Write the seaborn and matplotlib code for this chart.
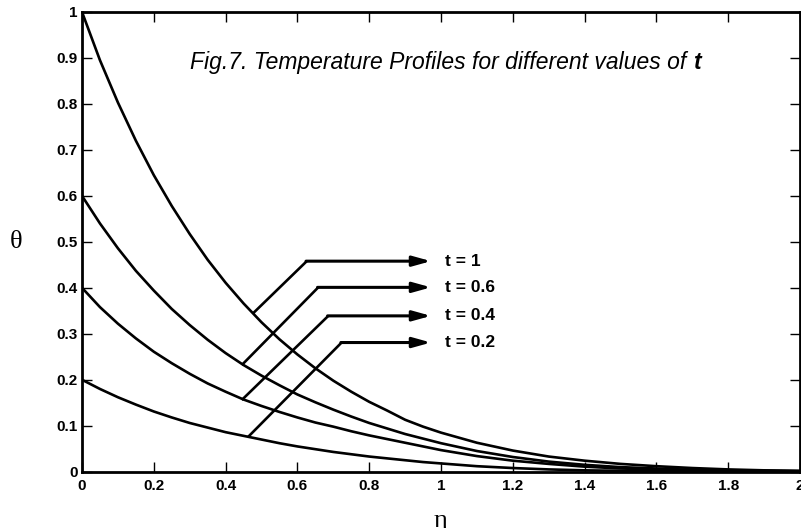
import pandas as pd
import seaborn as sns
import matplotlib.pyplot as plt

sns.set_theme(style="white")
plt.rcParams["font.family"] = ["Liberation Sans", "DejaVu Sans"]

# eta grid and theta values for each t
eta = [0, 0.05, 0.10, 0.15, 0.20, 0.25, 0.30, 0.35, 0.40, 0.45, 0.50, 0.55, 0.60, 0.65, 0.70,
       0.75, 0.80, 0.85, 0.90, 0.95, 1.0, 1.1, 1.2, 1.3, 1.4, 1.5, 1.6, 1.7, 1.8, 1.9, 2.0]

theta_t1 = [1.000, 0.895, 0.803, 0.720, 0.645, 0.578, 0.517, 0.461, 0.411, 0.366, 0.325, 0.288,
            0.255, 0.225, 0.198, 0.174, 0.152, 0.133, 0.113, 0.098, 0.085, 0.063, 0.046, 0.033,
            0.024, 0.017, 0.012, 0.008, 0.005, 0.003, 0.002]
theta_t06 = [0.600, 0.540, 0.486, 0.437, 0.394, 0.354, 0.319, 0.287, 0.258, 0.232, 0.209, 0.188,
             0.168, 0.151, 0.135, 0.120, 0.106, 0.094, 0.082, 0.072, 0.062, 0.045, 0.032, 0.022,
             0.015, 0.010, 0.007, 0.004, 0.003, 0.002, 0.001]
theta_t04 = [0.400, 0.358, 0.322, 0.290, 0.261, 0.236, 0.213, 0.192, 0.174, 0.157, 0.143, 0.130,
             0.118, 0.107, 0.098, 0.088, 0.079, 0.071, 0.063, 0.055, 0.047, 0.034, 0.024, 0.017,
             0.011, 0.007, 0.005, 0.003, 0.002, 0.001, 0.001]
theta_t02 = [0.200, 0.180, 0.162, 0.146, 0.131, 0.118, 0.106, 0.096, 0.086, 0.078, 0.070, 0.062,
             0.055, 0.049, 0.043, 0.038, 0.033, 0.029, 0.025, 0.021, 0.018, 0.012, 0.008, 0.005,
             0.003, 0.002, 0.001, 0.001, 0.0005, 0.0003, 0.0]

t_labels = ["t = 1", "t = 0.6", "t = 0.4", "t = 0.2"]

# pointer lines: start on curve -> corner -> arrow tip
arrow_start_eta = [0.477, 0.445, 0.445, 0.463]
arrow_start_theta = [0.345, 0.232, 0.156, 0.076]
arrow_corner_eta = [0.626, 0.658, 0.686, 0.723]
arrow_corner_theta = [0.458, 0.401, 0.339, 0.281]
arrow_tip_eta = 0.972
label_eta = 1.012

x_ticks = [0, 0.2, 0.4, 0.6, 0.8, 1, 1.2, 1.4, 1.6, 1.8, 2]
x_tick_labels = ["0", "0.2", "0.4", "0.6", "0.8", "1", "1.2", "1.4", "1.6", "1.8", "2"]
y_ticks = [0, 0.1, 0.2, 0.3, 0.4, 0.5, 0.6, 0.7, 0.8, 0.9, 1]
y_tick_labels = ["0", "0.1", "0.2", "0.3", "0.4", "0.5", "0.6", "0.7", "0.8", "0.9", "1"]

frames = []
for lab, th in zip(t_labels, [theta_t1, theta_t06, theta_t04, theta_t02]):
    frames.append(pd.DataFrame({"eta": eta, "theta": th, "t": lab}))
df = pd.concat(frames, ignore_index=True)

fig = plt.figure(figsize=(8.01, 5.28), dpi=100)
ax = fig.add_axes([0.1024, 0.1066, 0.8964, 0.8707])

sns.lineplot(data=df, x="eta", y="theta", hue="t", units="t", estimator=None, sort=False,
             palette=["black"] * 4, linewidth=1.9, legend=False, ax=ax)

# pointers + labels
for i, lab in enumerate(t_labels):
    ax.plot([arrow_start_eta[i], arrow_corner_eta[i]], [arrow_start_theta[i], arrow_corner_theta[i]],
            color="black", lw=1.9, solid_capstyle="butt")
    ax.annotate("", xy=(arrow_tip_eta, arrow_corner_theta[i]),
                xytext=(arrow_corner_eta[i] - 0.002, arrow_corner_theta[i]),
                arrowprops=dict(arrowstyle="-|>,head_length=0.9,head_width=0.25", color="black",
                                lw=2.2, shrinkA=0, shrinkB=0))
    ax.text(label_eta, arrow_corner_theta[i], lab, fontsize=12.5, fontweight="bold",
            va="center", ha="left", color="black")

title = ax.text(0.301, 0.875, "Fig.7. Temperature Profiles for different values of ",
                fontsize=16.5, style="italic", va="baseline", ha="left", color="black")
ax.annotate("t", xy=(1, 0), xycoords=title, va="bottom", ha="left", fontsize=16.5,
            style="italic", fontweight="bold", color="black")

ax.set_xlim(0, 2)
ax.set_ylim(0, 1)
ax.set_xticks(x_ticks)
ax.set_xticklabels(x_tick_labels, fontweight="bold", fontsize=11)
ax.set_yticks(y_ticks)
ax.set_yticklabels(y_tick_labels, fontweight="bold", fontsize=11)
ax.tick_params(axis="both", direction="in", length=7, width=1, color="black",
               top=True, right=True, bottom=True, left=True, labelcolor="black")
ax.tick_params(axis="x", pad=5.5)
ax.tick_params(axis="y", pad=3)
for s in ax.spines.values():
    s.set_color("black")
    s.set_linewidth(2)
ax.set_xlabel("")
ax.set_ylabel("")

fig.text(16 / 801, 1 - 248 / 528, "θ", fontsize=19, family=["Liberation Serif", "DejaVu Serif"],
         ha="center", va="baseline", color="black")
fig.text(440 / 801, 1 - 527 / 528, "η", fontsize=19, family=["Liberation Serif", "DejaVu Serif"],
         ha="center", va="baseline", color="black")

fig.savefig("out.png", dpi=100)
plt.close(fig)
